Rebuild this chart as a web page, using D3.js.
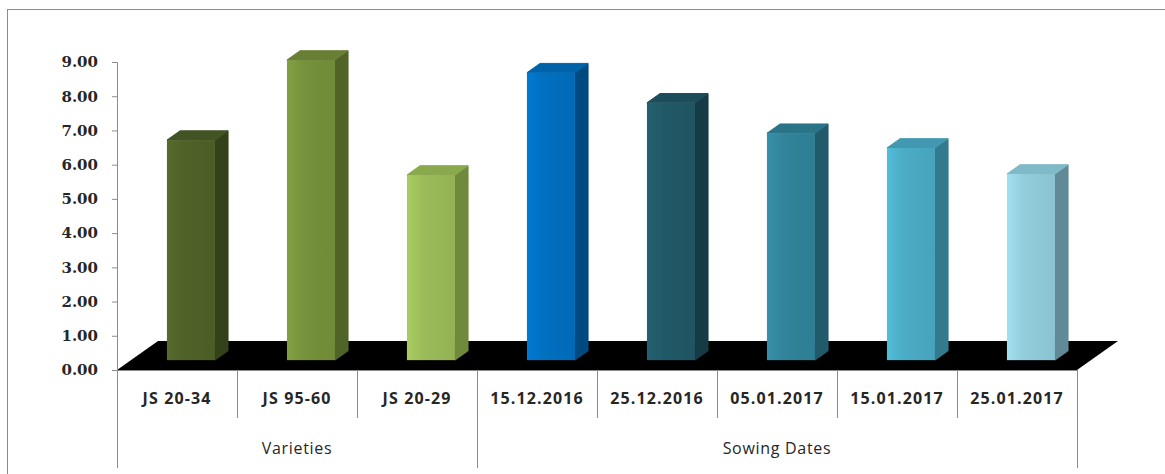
<!DOCTYPE html>
<html>
<head>
<meta charset="utf-8">
<script src="https://cdn.jsdelivr.net/npm/d3@7"></script>
<style>
  body { margin: 0; background: #fff; }
  svg { display: block; }
</style>
</head>
<body>
<div class="chart"></div>
<script>
// data
const categories = ["JS 20-34", "JS 95-60", "JS 20-29", "15.12.2016", "25.12.2016", "05.01.2017", "15.01.2017", "25.01.2017"];
const values = [6.43, 8.77, 5.41, 8.40, 7.52, 6.63, 6.20, 5.44];
const groupNames = ["Varieties", "Sowing Dates"];
const groupSizes = [3, 5];
const yTicks = [0, 1, 2, 3, 4, 5, 6, 7, 8, 9];

// bar colours: front, side, top
const frontColors = ["#4f6228", "#76923c", "#9bbb59", "#0070c0", "#215967", "#31849b", "#4bacc6", "#92cddc"];
const sideColors  = ["#34421a", "#506428", "#70893a", "#004a82", "#153c46", "#215b6b", "#327a8d", "#5f8a96"];
const topColors   = ["#435424", "#687f35", "#8aa94d", "#0062a8", "#1c4d59", "#2a7488", "#4198b0", "#80b9c8"];

const width = 1165, height = 474;
const plot = { left: 117, right: 1077, top: 62, bottom: 370 };
const depth = { dx: 41, dy: -29 };       // floor depth vector
const barFront = 0.34, barBack = 0.66;   // bar position inside the floor depth
const barW = 48;

const svg = d3.select(".chart").append("svg")
    .attr("width", width)
    .attr("height", height);

// gradients for bar fronts
const defs = svg.append("defs");
frontColors.forEach((c, i) => {
    const g = defs.append("linearGradient").attr("id", "gf" + i)
        .attr("x1", "0%").attr("x2", "100%").attr("y1", "0%").attr("y2", "0%");
    g.append("stop").attr("offset", "0%").attr("stop-color", d3.color(c).brighter(0.25));
    g.append("stop").attr("offset", "35%").attr("stop-color", c);
    g.append("stop").attr("offset", "100%").attr("stop-color", d3.color(c).darker(0.15));
});

// chart frame
svg.append("rect")
    .attr("x", 7.5).attr("y", 9.5)
    .attr("width", 1300).attr("height", 600)
    .attr("fill", "none")
    .attr("stroke", "#8c8c8c");

const x = d3.scaleBand()
    .domain(categories)
    .range([plot.left, plot.right]);

const y = d3.scaleLinear()
    .domain([0, 9])
    .range([plot.bottom, plot.top]);

// floor
const floorPts = [
    [plot.left, plot.bottom],
    [plot.right, plot.bottom],
    [plot.right + depth.dx, plot.bottom + depth.dy],
    [plot.left + depth.dx, plot.bottom + depth.dy]
];
svg.append("polygon")
    .attr("points", floorPts.map(p => p.join(",")).join(" "))
    .attr("fill", "#000");

// bars
const data = categories.map((c, i) => ({ cat: c, value: values[i], i: i }));
const ox0 = depth.dx * barFront, oy0 = depth.dy * barFront;
const ox1 = depth.dx * barBack, oy1 = depth.dy * barBack;

const bars = svg.append("g").selectAll("g")
    .data(data)
    .join("g");

function pts(arr) { return arr.map(p => p.join(",")).join(" "); }

bars.each(function(d) {
    const g = d3.select(this);
    const xl = x(d.cat) + x.bandwidth() / 2 - barW / 2 + ox0;
    const xr = xl + barW;
    const yb = y(0) + oy0;
    const yt = y(d.value) + oy0;
    const sx = ox1 - ox0, sy = oy1 - oy0;

    // side
    g.append("polygon")
        .attr("points", pts([[xr, yb], [xr + sx, yb + sy], [xr + sx, yt + sy], [xr, yt]]))
        .attr("fill", sideColors[d.i])
        .attr("stroke", sideColors[d.i]).attr("stroke-linejoin", "round");
    // top
    g.append("polygon")
        .attr("points", pts([[xl, yt], [xr, yt], [xr + sx, yt + sy], [xl + sx, yt + sy]]))
        .attr("fill", topColors[d.i])
        .attr("stroke", topColors[d.i]).attr("stroke-linejoin", "round");
    // front
    g.append("rect")
        .attr("x", xl).attr("y", yt)
        .attr("width", barW).attr("height", yb - yt)
        .attr("fill", "url(#gf" + d.i + ")");
});

// value axis
const yAxis = svg.append("g")
    .attr("transform", `translate(${plot.left},0)`)
    .call(d3.axisLeft(y).tickValues(yTicks).tickFormat(d3.format(".2f")).tickSize(5).tickPadding(14));
yAxis.select(".domain").attr("stroke", "#8c8c8c");
yAxis.selectAll(".tick line").attr("stroke", "#8c8c8c");
yAxis.selectAll("text")
    .attr("fill", "#262626")
    .style("font-family", "'DejaVu Serif', serif")
    .style("font-weight", "bold")
    .style("font-size", "15px");

// category axis line
svg.append("line")
    .attr("x1", plot.left).attr("x2", plot.right)
    .attr("y1", plot.bottom + 0.5).attr("y2", plot.bottom + 0.5)
    .attr("stroke", "#8c8c8c");

// dividers
const groupEnds = [];
let acc = 0;
groupSizes.forEach(n => { groupEnds.push(acc); acc += n; });
groupEnds.push(acc);

const divIdx = d3.range(categories.length + 1);
svg.append("g").selectAll("line")
    .data(divIdx)
    .join("line")
    .attr("x1", i => i < categories.length ? x(categories[i]) + 0.5 : plot.right + 0.5)
    .attr("x2", i => i < categories.length ? x(categories[i]) + 0.5 : plot.right + 0.5)
    .attr("y1", plot.bottom)
    .attr("y2", i => groupEnds.includes(i) ? 468 : 418)
    .attr("stroke", "#8c8c8c");

// category labels
svg.append("g").selectAll("text")
    .data(categories)
    .join("text")
    .attr("x", d => x(d) + x.bandwidth() / 2)
    .attr("y", 398)
    .attr("text-anchor", "middle")
    .attr("dominant-baseline", "central")
    .attr("fill", "#262626")
    .style("font-family", "'Open Sans', sans-serif")
    .style("font-weight", "bold")
    .style("font-size", "16px")
    .style("letter-spacing", "1.1px")
    .text(d => d);

// group labels
svg.append("g").selectAll("text")
    .data(groupNames)
    .join("text")
    .attr("x", (d, i) => {
        const a = x(categories[groupEnds[i]]);
        const b = groupEnds[i + 1] < categories.length ? x(categories[groupEnds[i + 1]]) : plot.right;
        return (a + b) / 2;
    })
    .attr("y", 448)
    .attr("text-anchor", "middle")
    .attr("dominant-baseline", "central")
    .attr("fill", "#262626")
    .style("font-family", "'Open Sans', sans-serif")
    .style("font-size", "16px")
    .style("letter-spacing", "0.7px")
    .text(d => d);
</script>
</body>
</html>
